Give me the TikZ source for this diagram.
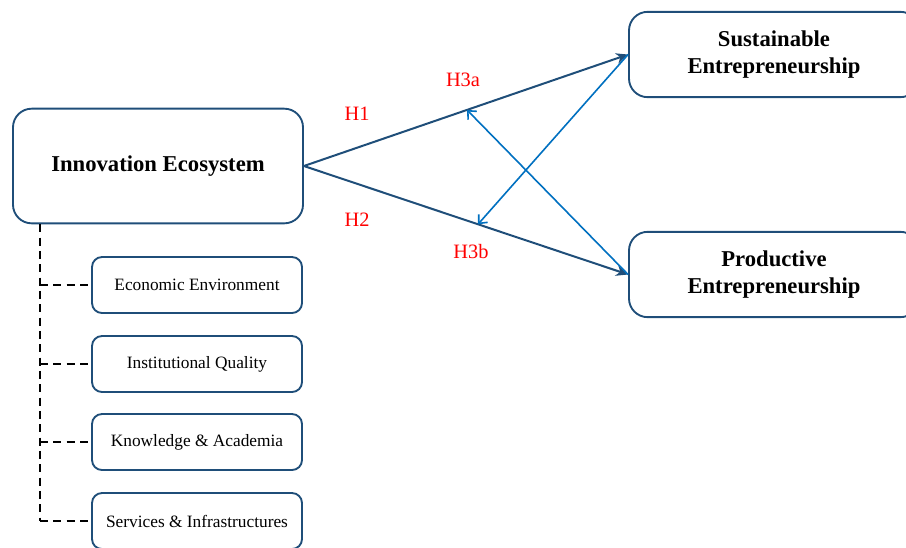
\documentclass[tikz,border=0pt]{standalone}
\usepackage{fontspec}
\setmainfont{Liberation Serif}
\usepackage{xcolor}
\usetikzlibrary{arrows.meta}
\definecolor{boxblue}{RGB}{31,78,121}
\definecolor{linkblue}{RGB}{0,112,192}

\begin{document}
\begin{tikzpicture}[x=0.75pt, y=-0.75pt,
    mainbox/.style={draw=boxblue, line width=1.4pt, rounded corners=14pt, align=center,
        minimum width=217.5pt, minimum height=86pt, inner sep=0pt,
        font=\fontsize{17}{20.5}\selectfont\bfseries},
    subbox/.style={draw=boxblue, line width=1.4pt, rounded corners=7.5pt,
        minimum width=157.5pt, minimum height=42pt, inner sep=0pt,
        font=\fontsize{13}{15}\selectfont},
    hyp/.style={text=red, font=\fontsize{15.3}{18}\selectfont},
    path/.style={draw=boxblue, line width=1.5pt, -{Stealth[length=9pt, width=8pt]}},
    link/.style={draw=linkblue, line width=1.2pt, -{Straight Barb[length=5pt, width=9pt]}},
    tie/.style={line width=1pt, dash pattern=on 6pt off 4pt}]
    \useasboundingbox (0,0) rectangle (906,547);

    \node[mainbox] (inno) at (158,166) {Innovation Ecosystem};
    \node[mainbox, minimum height=64pt] (sust) at (774,54.5) {Sustainable\\Entrepreneurship};
    \node[mainbox, minimum height=64pt] (prod) at (774,274.5) {Productive\\Entrepreneurship};

    % dimensions of the ecosystem
    \foreach \y/\name/\txt in {285/econ/Economic Environment, 364/inst/Institutional Quality,
        442/know/Knowledge \& Academia, 521/serv/Services \& Infrastructures} {
        \node[subbox] (\name) at (197,\y) {\txt};
        \draw[tie] (40,\y) -- (\name.west);
    }
    \draw[tie] (inno.south -| 40,0) -- (40,521);

    % hypotheses
    \draw[path] (inno.east) -- (sust.west) coordinate[pos=0.503] (h1mid);
    \draw[path] (inno.east) -- (prod.west) coordinate[pos=0.537] (h2mid);
    \draw[link] (prod.west) -- (h1mid);
    \draw[link] (sust.west) -- (h2mid);

    \node[hyp] (h1) at (357,114) {H1};
    \node[hyp] (h2) at (357,220) {H2};
    \node[hyp] (h3a) at (463,80) {H3a};
    \node[hyp] (h3b) at (471,252) {H3b};
\end{tikzpicture}
\end{document}
